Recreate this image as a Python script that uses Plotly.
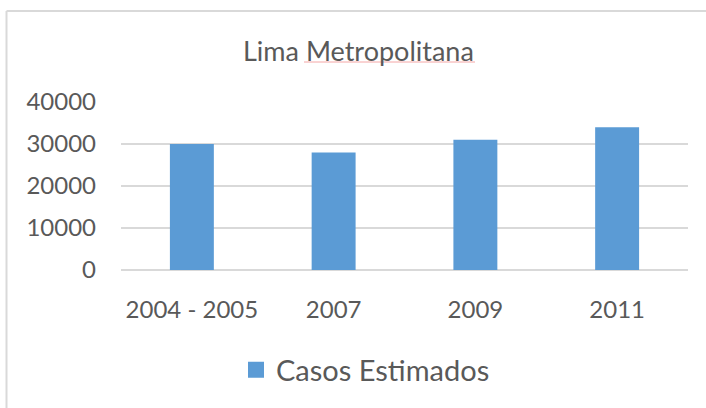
import plotly.graph_objects as go

# Datos: casos estimados en Lima Metropolitana por periodo
categorias = ["2004 - 2005", "2007", "2009", "2011"]
casos_estimados = [30000, 28000, 31000, 34000]
y_ticks = [0, 10000, 20000, 30000, 40000]

W, H = 706, 408
L, R, T, B = 121, 18, 102, 138
pw, ph = W - L - R, H - T - B

def px_x(x):
    return (x - L) / pw

def px_y(y):
    return (H - B - y) / ph

TEXT = "#595959"
GRID = "#d9d9d9"
BLUE = "#5b9bd5"
FONT = "Lato"

fig = go.Figure()
fig.add_trace(go.Bar(
    x=categorias, y=casos_estimados, name="Casos Estimados",
    marker=dict(color=BLUE, line=dict(width=0)),
    width=0.31, showlegend=False,
))
# legend entry with a larger square swatch
fig.add_trace(go.Scatter(
    x=[None], y=[None], mode="markers", name="Casos Estimados",
    marker=dict(symbol="square", size=16, color=BLUE),
))

fig.update_layout(
    width=W, height=H,
    margin=dict(l=L, r=R, t=T, b=B, pad=0),
    paper_bgcolor="white", plot_bgcolor="white",
    font=dict(family=FONT, color=TEXT, size=24),
    showlegend=True,
    legend=dict(
        orientation="h", x=px_x(236), xanchor="left",
        y=px_y(370), yanchor="middle",
        font=dict(family=FONT, size=29, color=TEXT),
        bgcolor="rgba(0,0,0,0)", itemsizing="trace",
    ),
    xaxis=dict(
        showgrid=False, showline=False, zeroline=False,
        tickfont=dict(family=FONT, size=24, color=TEXT),
        ticks="", ticklabelstandoff=23,
    ),
    yaxis=dict(
        range=[0, 40000], tickvals=y_ticks,
        ticktext=[str(v) for v in y_ticks],
        showgrid=True, gridcolor=GRID, gridwidth=1.5,
        zeroline=True, zerolinecolor=GRID, zerolinewidth=1.5,
        showline=False, ticks="",
        tickfont=dict(family=FONT, size=24, color=TEXT),
        ticklabelstandoff=24,
    ),
    annotations=[dict(
        text="Lima Metropolitana", xref="paper", yref="paper",
        x=px_x(358), y=px_y(50), xanchor="center", yanchor="middle",
        showarrow=False, font=dict(family=FONT, size=27, color=TEXT),
    )],
    shapes=[
        # chart frame (left and top edges)
        dict(type="line", xref="paper", yref="paper",
             x0=px_x(6.5), x1=px_x(6.5), y0=px_y(11), y1=px_y(H + 5),
             line=dict(color=GRID, width=2)),
        dict(type="line", xref="paper", yref="paper",
             x0=px_x(6.5), x1=px_x(W + 5), y0=px_y(11), y1=px_y(11),
             line=dict(color=GRID, width=2)),
        # spell-check underline under the title word
        dict(type="line", xref="paper", yref="paper",
             x0=px_x(304), x1=px_x(475), y0=px_y(62), y1=px_y(62),
             line=dict(color="#f4a6a6", width=1)),
    ],
)

fig.write_html("out.html")
